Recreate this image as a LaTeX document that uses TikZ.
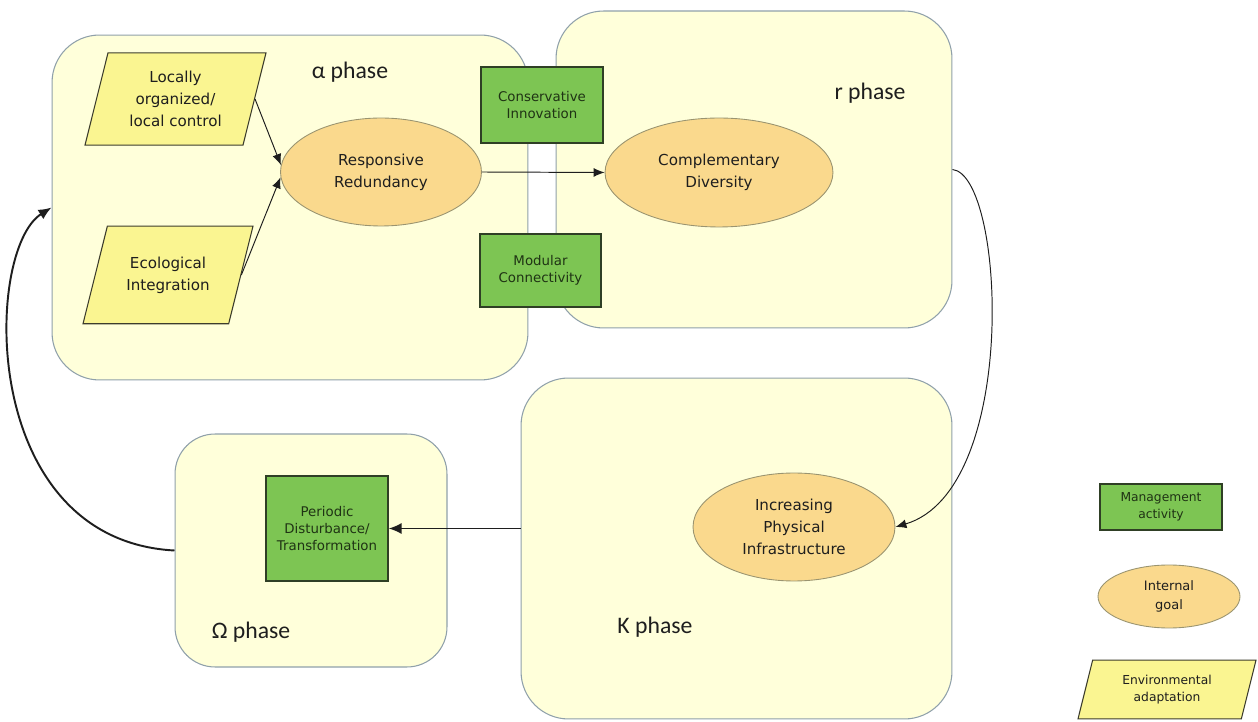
\documentclass[tikz,border=0pt]{standalone}
\usepackage{fontspec}
\setmainfont{DejaVu Sans}
\newfontfamily\phasefont{Carlito}
\usetikzlibrary{arrows.meta,shapes.geometric}
\definecolor{cream}{HTML}{FFFFDA}
\definecolor{frame}{HTML}{8FA0AA}
\definecolor{leaf}{HTML}{7DC553}
\definecolor{leafline}{HTML}{2F3F25}
\definecolor{leafink}{HTML}{1F3314}
\definecolor{apricot}{HTML}{FAD98D}
\definecolor{apricotline}{HTML}{9A9470}
\definecolor{lemon}{HTML}{FAF591}
\definecolor{lemonline}{HTML}{3C3C2C}
\definecolor{ink}{HTML}{1E1E1E}

\begin{document}
\begin{tikzpicture}[x=0.02cm,y=-0.02cm,
  phasebox/.style={draw=frame,fill=cream,line width=0.6pt,inner sep=0pt},
  actbox/.style={draw=leafline,fill=leaf,line width=0.6pt,inner sep=0pt,text=leafink,align=center,font=\fontsize{7.6}{9.8}\selectfont},
  goalnode/.style={ellipse,draw=apricotline,fill=apricot,line width=0.5pt,inner sep=0pt,text=ink,align=center,font=\fontsize{8.6}{12.4}\selectfont},
  adapt/.style={trapezium,trapezium left angle=76,trapezium right angle=104,trapezium stretches body,draw=lemonline,fill=lemon,line width=0.6pt,inner xsep=0pt,text=ink,align=center,font=\fontsize{8.6}{12.4}\selectfont},
  phaselabel/.style={font=\phasefont\fontsize{13.5}{16}\selectfont,text=ink},
  link/.style={-{Latex[length=2.2mm,width=1.8mm]},line width=0.55pt,color=ink},
  loopback/.style={-{Latex[length=2.6mm,width=2.2mm]},line width=1.1pt,color=ink}]
  \path[use as bounding box,fill=white] (0,0) rectangle (1258,722);
  \foreach \nm/\cx/\cy/\w/\h/\rc in {alpha/290/207.5/9.52/6.9/0.95, rph/754/169.5/7.92/6.34/0.95,
    kph/736.5/548.5/8.62/6.82/0.95, omega/311/550.5/5.44/4.66/0.8}
    \node[phasebox,minimum width=\w cm,minimum height=\h cm,rounded corners=\rc cm] (\nm) at (\cx,\cy) {};
  \node[phaselabel] (alab) at (350,72) {α phase};
  \node[phaselabel] (rlab) at (870,93) {r phase};
  \node[phaselabel] (klab) at (655,627) {K phase};
  \node[phaselabel] (olab) at (251,632) {Ω phase};

  \node[adapt,minimum width=3.62cm,inner ysep=10.5pt] (loc) at (175.5,99) {Locally\\organized/\\local control};
  \node[adapt,minimum width=3.4cm,inner ysep=17.4pt] (eco) at (168,275) {Ecological\\Integration};
  \node[goalnode,minimum width=4.02cm,minimum height=2.16cm] (resp) at (381,172) {Responsive\\Redundancy};
  \node[goalnode,minimum width=4.56cm,minimum height=2.18cm] (comp) at (719,172.5) {Complementary\\Diversity};
  \node[goalnode,minimum width=4.04cm,minimum height=2.16cm] (infra) at (794,527) {Increasing\\Physical\\Infrastructure};
  \node[actbox,minimum width=2.44cm,minimum height=1.52cm] (cons) at (542,105) {Conservative\\Innovation};
  \node[actbox,minimum width=2.42cm,minimum height=1.46cm] (mod) at (540.5,270.5) {Modular\\Connectivity};
  \node[actbox,minimum width=2.44cm,minimum height=2.1cm] (pdt) at (327,528.5) {Periodic\\Disturbance/\\Transformation};

  \node[actbox,minimum width=2.44cm,minimum height=0.92cm,font=\fontsize{7}{10}\selectfont] (keyact) at (1161,507) {Management\\activity};
  \node[goalnode,minimum width=2.84cm,minimum height=1.26cm,font=\fontsize{7.4}{10.4}\selectfont] (keygoal) at (1169,596.5) {Internal\\goal};
  \node[adapt,minimum width=3.56cm,inner ysep=8.3pt,font=\fontsize{7}{10}\selectfont] (keyadapt) at (1167,689.5) {Environmental\\adaptation};

  \draw[link] (loc.east) -- (resp.176);
  \draw[link] (eco.east) -- (resp.183);
  \draw[link] (resp.east) -- (comp.west);
  \draw[link] (rph.east) .. controls (1005,175) and (1020,490) .. (infra.east);
  \draw[loopback] (kph.west |- pdt.east) -- (pdt.east);
  \draw[loopback] (omega.west) .. controls (-22,540) and (-16,250) .. (alpha.west);
\end{tikzpicture}
\end{document}
